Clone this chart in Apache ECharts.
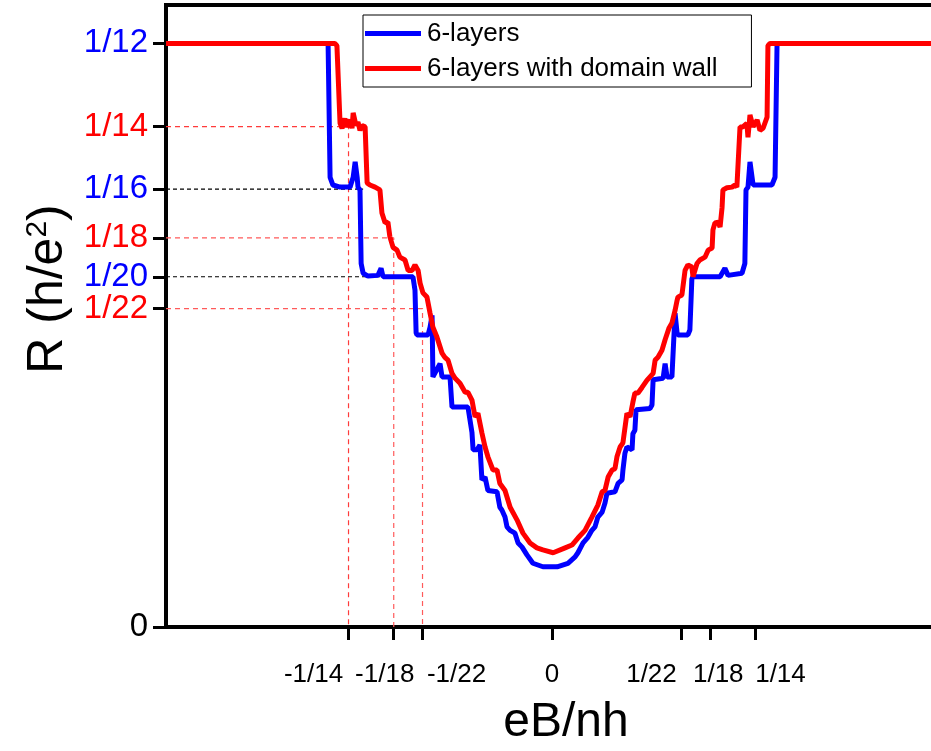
<!DOCTYPE html>
<html>
<head>
<meta charset="utf-8">
<script src="https://cdn.jsdelivr.net/npm/echarts@6/dist/echarts.min.js"></script>
<style>
    html, body { margin: 0; padding: 0; background: #fff; }
    #main { width: 931px; height: 751px; }
</style>
</head>
<body>
<div id="main"></div>
<script>
// 坐标范围
const xMin = -0.1355
const xMax = 0.1355
const yMax = 0.0888

// x 轴刻度
const xTickValues = [-1 / 14, -1 / 18, -1 / 22, 0, 1 / 22, 1 / 18, 1 / 14]
const xTickLabels = ['-1/14', '-1/18', '-1/22', '0', '1/22', '1/18', '1/14']

// y 轴刻度
const yTickValues = [0, 1 / 22, 1 / 20, 1 / 18, 1 / 16, 1 / 14, 1 / 12]
const yTickLabels = ['0', '1/22', '1/20', '1/18', '1/16', '1/14', '1/12']
const yTickColors = ['#000', '#ff0000', '#0000ff', '#ff0000', '#0000ff', '#ff0000', '#0000ff']

const seriesNames = ['6-layers', '6-layers with domain wall']

// 6-layers
const layers6 = [
    [-0.1355, 0.0833], [-0.0786, 0.0833], [-0.0779, 0.0642], [-0.0769, 0.0631], [-0.0744, 0.0628],
    [-0.0709, 0.0628], [-0.0698, 0.0642], [-0.0691, 0.0664], [-0.0684, 0.0642], [-0.0681, 0.0628],
    [-0.0674, 0.0624], [-0.0670, 0.0519], [-0.0663, 0.0505], [-0.0646, 0.0501], [-0.0611, 0.0502],
    [-0.0600, 0.0512], [-0.0593, 0.0500], [-0.0488, 0.0500], [-0.0481, 0.0481], [-0.0477, 0.0420],
    [-0.0474, 0.0417], [-0.0435, 0.0417], [-0.0428, 0.0428], [-0.0421, 0.0445], [-0.0418, 0.0357],
    [-0.0411, 0.0357], [-0.0393, 0.0376], [-0.0386, 0.0357], [-0.0358, 0.0357], [-0.0351, 0.0314],
    [-0.0295, 0.0314], [-0.0288, 0.0312], [-0.0281, 0.0278], [-0.0277, 0.0253], [-0.0263, 0.0253],
    [-0.0253, 0.0260], [-0.0246, 0.0210], [-0.0235, 0.0214], [-0.0225, 0.0195], [-0.0193, 0.0193],
    [-0.0183, 0.0171], [-0.0176, 0.0167], [-0.0165, 0.0157], [-0.0158, 0.0143], [-0.0147, 0.0138],
    [-0.0130, 0.0134], [-0.0119, 0.0120], [-0.0105, 0.0114], [-0.0088, 0.0103], [-0.0067, 0.0091],
    [-0.0032, 0.0086], [0.0018, 0.0086], [0.0056, 0.0091], [0.0081, 0.0100], [0.0091, 0.0106],
    [0.0109, 0.0120], [0.0126, 0.0128], [0.0140, 0.0138], [0.0151, 0.0143], [0.0161, 0.0157],
    [0.0176, 0.0164], [0.0186, 0.0177], [0.0193, 0.0191], [0.0221, 0.0193], [0.0232, 0.0205],
    [0.0246, 0.0210], [0.0249, 0.0224], [0.0256, 0.0248], [0.0263, 0.0257], [0.0281, 0.0253],
    [0.0284, 0.0276], [0.0291, 0.0281], [0.0295, 0.0310], [0.0298, 0.0312], [0.0344, 0.0312],
    [0.0351, 0.0317], [0.0355, 0.0353], [0.0362, 0.0355], [0.0390, 0.0355], [0.0397, 0.0376],
    [0.0404, 0.0357], [0.0421, 0.0357], [0.0432, 0.0448], [0.0439, 0.0420], [0.0442, 0.0417],
    [0.0477, 0.0417], [0.0484, 0.0424], [0.0491, 0.0497], [0.0495, 0.0500], [0.0590, 0.0500],
    [0.0607, 0.0512], [0.0618, 0.0502], [0.0667, 0.0505], [0.0677, 0.0519], [0.0681, 0.0624],
    [0.0688, 0.0628], [0.0695, 0.0664], [0.0706, 0.0631], [0.0772, 0.0631], [0.0783, 0.0642],
    [0.0790, 0.0833], [0.1355, 0.0833]
]

// 6-layers with domain wall
const layers6Wall = [
    [-0.1355, 0.0833], [-0.0762, 0.0833], [-0.0755, 0.0830], [-0.0744, 0.0719], [-0.0737, 0.0712],
    [-0.0727, 0.0726], [-0.0720, 0.0714], [-0.0709, 0.0724], [-0.0702, 0.0712], [-0.0698, 0.0734],
    [-0.0688, 0.0716], [-0.0681, 0.0721], [-0.0674, 0.0709], [-0.0667, 0.0716], [-0.0656, 0.0714],
    [-0.0649, 0.0634], [-0.0639, 0.0631], [-0.0621, 0.0628], [-0.0604, 0.0624], [-0.0597, 0.0591],
    [-0.0586, 0.0577], [-0.0576, 0.0578], [-0.0569, 0.0557], [-0.0558, 0.0542], [-0.0544, 0.0538],
    [-0.0534, 0.0528], [-0.0516, 0.0524], [-0.0505, 0.0509], [-0.0491, 0.0509], [-0.0481, 0.0517],
    [-0.0470, 0.0509], [-0.0463, 0.0491], [-0.0453, 0.0477], [-0.0439, 0.0471], [-0.0428, 0.0448],
    [-0.0418, 0.0428], [-0.0404, 0.0414], [-0.0386, 0.0391], [-0.0376, 0.0385], [-0.0365, 0.0381],
    [-0.0351, 0.0362], [-0.0340, 0.0355], [-0.0323, 0.0348], [-0.0305, 0.0335], [-0.0295, 0.0335],
    [-0.0281, 0.0324], [-0.0270, 0.0300], [-0.0260, 0.0305], [-0.0246, 0.0277], [-0.0235, 0.0257],
    [-0.0225, 0.0243], [-0.0207, 0.0224], [-0.0193, 0.0224], [-0.0183, 0.0205], [-0.0165, 0.0195],
    [-0.0147, 0.0171], [-0.0123, 0.0153], [-0.0102, 0.0134], [-0.0077, 0.0120], [-0.0053, 0.0113],
    [-0.0032, 0.0110], [0.0004, 0.0106], [0.0046, 0.0113], [0.0070, 0.0117], [0.0091, 0.0127],
    [0.0116, 0.0138], [0.0140, 0.0157], [0.0161, 0.0174], [0.0176, 0.0193], [0.0186, 0.0195],
    [0.0197, 0.0214], [0.0211, 0.0224], [0.0221, 0.0226], [0.0228, 0.0243], [0.0239, 0.0257],
    [0.0249, 0.0263], [0.0263, 0.0305], [0.0274, 0.0300], [0.0284, 0.0321], [0.0291, 0.0334],
    [0.0302, 0.0334], [0.0316, 0.0342], [0.0333, 0.0352], [0.0344, 0.0357], [0.0355, 0.0362],
    [0.0362, 0.0381], [0.0372, 0.0385], [0.0386, 0.0395], [0.0397, 0.0410], [0.0411, 0.0427],
    [0.0421, 0.0434], [0.0432, 0.0452], [0.0439, 0.0466], [0.0442, 0.0471], [0.0456, 0.0474],
    [0.0467, 0.0509], [0.0477, 0.0517], [0.0491, 0.0514], [0.0495, 0.0500], [0.0509, 0.0519],
    [0.0519, 0.0524], [0.0537, 0.0528], [0.0548, 0.0538], [0.0562, 0.0541], [0.0565, 0.0567],
    [0.0572, 0.0577], [0.0583, 0.0578], [0.0590, 0.0571], [0.0597, 0.0599], [0.0600, 0.0624],
    [0.0614, 0.0627], [0.0632, 0.0628], [0.0642, 0.0631], [0.0649, 0.0628], [0.0660, 0.0714],
    [0.0670, 0.0714], [0.0684, 0.0719], [0.0688, 0.0699], [0.0695, 0.0731], [0.0706, 0.0714],
    [0.0720, 0.0724], [0.0730, 0.0709], [0.0741, 0.0712], [0.0755, 0.0728], [0.0758, 0.0830],
    [0.0765, 0.0833], [0.1355, 0.0833]
]

// 辅助虚线
const guide14 = [[xMin, 1 / 14], [-1 / 14, 1 / 14], [-1 / 14, 0]]
const guide18 = [[xMin, 1 / 18], [-1 / 18, 1 / 18], [-1 / 18, 0]]
const guide22 = [[xMin, 1 / 22], [-1 / 22, 1 / 22], [-1 / 22, 0]]
const guide16 = [[xMin, 1 / 16], [-0.0663, 1 / 16]]
const guide20 = [[xMin, 1 / 20], [-0.0481, 1 / 20]]

const font = 'Liberation Sans, Arial, sans-serif'

// 标签左右偏移(像素)
const xLabelShift = [-35, -9, 34, 0, -30, 8, 25]

const nearest = (arr, v) => {
    let best = 0
    arr.forEach((a, i) => { if (Math.abs(a - v) < Math.abs(arr[best] - v)) best = i })
    return best
}

const xRich = {}
xLabelShift.forEach((s, i) => {
    xRich['s' + i] = {
        fontSize: 26, fontFamily: font, color: '#000',
        padding: s < 0 ? [0, -2 * s, 0, 0] : [0, 0, 0, 2 * s]
    }
})
const yRich = {}
yTickColors.forEach((c, i) => {
    yRich['c' + i] = { fontSize: 33, fontFamily: font, color: c }
})

const guideSeries = (data, color, dash) => ({
    type: 'line',
    data: data,
    symbol: 'none',
    silent: true,
    lineStyle: { color: color, width: 1.2, type: dash },
    z: 1
})

var myChart = echarts.init(document.getElementById('main'))

var option = {
    animation: false,
    backgroundColor: '#fff',
    // 右边框在画布外
    grid: {
        left: 166, right: -7, top: 5, bottom: 124,
        outerBoundsMode: 'none',
        show: true, borderColor: '#000', borderWidth: 4
    },
    legend: {
        data: seriesNames,
        orient: 'vertical',
        left: 363,
        top: 15,
        icon: 'rect',
        itemWidth: 56,
        itemHeight: 5,
        itemGap: 4,
        padding: [3, 34, 3, 2],
        borderColor: '#000',
        borderWidth: 1,
        textStyle: { fontSize: 26, lineHeight: 31, fontFamily: font, color: '#000', padding: [0, 0, 0, 1] }
    },
    xAxis: {
        type: 'value',
        min: xMin,
        max: xMax,
        name: 'eB/nh',
        nameLocation: 'middle',
        nameGap: 72,
        nameTextStyle: { fontSize: 48, fontFamily: font, color: '#000', padding: [0, 0, 0, 28] },
        splitLine: { show: false },
        axisLine: { show: true, onZero: false, lineStyle: { color: '#000', width: 4 } },
        axisTick: {
            show: true, customValues: xTickValues, length: 13,
            lineStyle: { color: '#000', width: 3 }
        },
        axisLabel: {
            customValues: xTickValues,
            margin: 35,
            formatter: v => {
                const i = nearest(xTickValues, v)
                return '{s' + i + '|' + xTickLabels[i] + '}'
            },
            rich: xRich
        }
    },
    yAxis: {
        type: 'value',
        min: 0,
        max: yMax,
        name: 'R (h/e{sup|2})',
        nameLocation: 'middle',
        nameRotate: 90,
        nameGap: 89,
        nameTextStyle: {
            fontSize: 50, fontFamily: font, color: '#000', padding: [0, 0, 0, 54],
            rich: { sup: { fontSize: 30, fontFamily: font, color: '#000', verticalAlign: 'top', lineHeight: 30 } }
        },
        splitLine: { show: false },
        axisLine: { show: true, onZero: false, lineStyle: { color: '#000', width: 4 } },
        axisTick: {
            show: true, customValues: yTickValues, length: 13,
            lineStyle: { color: '#000', width: 3 }
        },
        axisLabel: {
            customValues: yTickValues,
            margin: 18,
            formatter: v => {
                const i = nearest(yTickValues, v)
                return '{c' + i + '|' + yTickLabels[i] + '}'
            },
            rich: yRich
        }
    },
    series: [
        guideSeries(guide14, '#ff3b3b', [5, 4]),
        guideSeries(guide18, '#ff5a5a', [5, 4]),
        guideSeries(guide22, '#ff5a5a', [5, 4]),
        guideSeries(guide16, '#000', [4, 3]),
        guideSeries(guide20, '#000', [4, 3]),
        {
            name: seriesNames[0],
            type: 'line',
            data: layers6,
            symbol: 'none',
            lineStyle: { color: '#0000ff', width: 5 },
            itemStyle: { color: '#0000ff' },
            z: 3
        },
        {
            name: seriesNames[1],
            type: 'line',
            data: layers6Wall,
            symbol: 'none',
            lineStyle: { color: '#ff0000', width: 5 },
            itemStyle: { color: '#ff0000' },
            z: 4
        }
    ]
}

myChart.setOption(option)
</script>
</body>
</html>
